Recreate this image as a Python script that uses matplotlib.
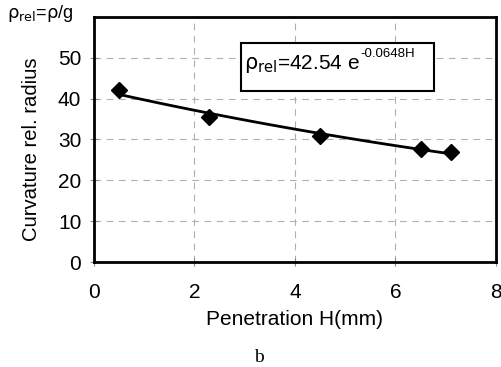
import numpy as np
import matplotlib
matplotlib.use("Agg")
import matplotlib.pyplot as plt

plt.rcParams['font.family'] = ['Liberation Sans', 'DejaVu Sans']

# measured points
penetration = [0.5, 2.3, 4.5, 6.5, 7.1]
rel_radius = [42.0, 35.6, 30.9, 27.6, 26.9]
x_ticks = [0, 2, 4, 6, 8]
y_ticks = [0, 10, 20, 30, 40, 50]

# exponential trend fitted to the points
b, ln_a = np.polyfit(penetration, np.log(rel_radius), 1)
h_fit = np.linspace(min(penetration), max(penetration), 50)
rho_fit = np.exp(ln_a) * np.exp(b * h_fit)

fig = plt.figure(figsize=(5.02, 3.67), dpi=100)
ax = fig.add_axes([0.187, 0.286, 0.801, 0.668])

ax.plot(h_fit, rho_fit, color='black', linewidth=2)
ax.plot(penetration, rel_radius, linestyle='none', marker='D', markersize=8,
        color='black')

ax.set_xlim(0, 8)
ax.set_ylim(0, 60)
ax.set_xticks(x_ticks)
ax.set_yticks(y_ticks)
ax.grid(True, color='#b0b0b0', linestyle=(0, (6, 5)), linewidth=0.8)
ax.set_axisbelow(True)
for s in ax.spines.values():
    s.set_linewidth(2)
ax.tick_params(axis='both', labelsize=15, direction='inout', length=6,
               width=0.8, color='#888888')
ax.tick_params(axis='x', pad=12)
ax.tick_params(axis='y', pad=6)

ax.set_xlabel('Penetration H(mm)', fontsize=15, labelpad=6)
ax.set_ylabel('Curvature rel. radius', fontsize=14.6)
ax.yaxis.set_label_coords(-0.132, 0.46)

box = plt.Rectangle((2.93, 41.9), 6.77 - 2.93, 53.7 - 41.9, fill=True,
                    facecolor='white', edgecolor='black', linewidth=1.5,
                    zorder=3)
ax.add_patch(box)
ax.text(2.98, 48.5, r'$\mathsf{\rho_{rel}}$=42.54 e', fontsize=15,
        va='center', ha='left', zorder=4)
ax.text(5.3, 51.0, '-0.0648H', fontsize=9.5, va='center', ha='left', zorder=4)

fig.text(0.014, 0.962, r'$\mathsf{\rho_{rel}}$=$\mathsf{\rho}$/g', fontsize=13,
         va='center', ha='left')
fig.text(0.515, 0.025, 'b', family='Liberation Serif', fontsize=14,
         ha='center', va='center')

fig.savefig('out.png', dpi=100)
